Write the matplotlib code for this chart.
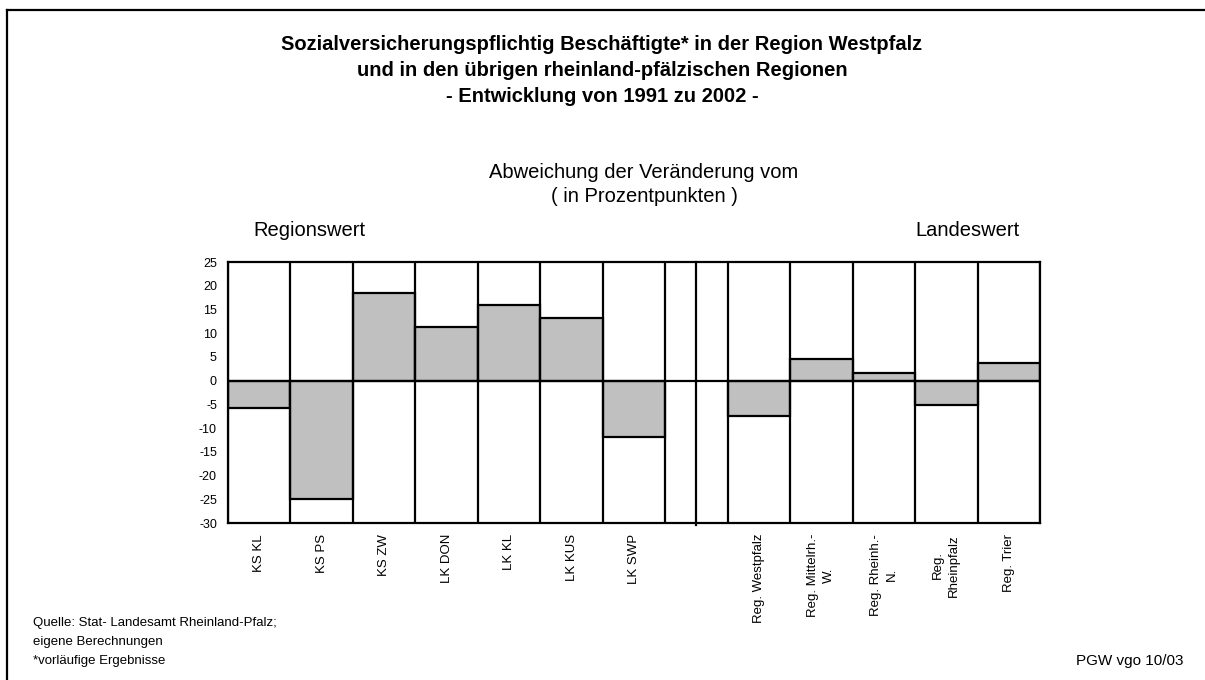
import numpy as np
import matplotlib.pyplot as plt
from matplotlib.lines import Line2D

plt.rcParams['font.family'] = ['Liberation Sans', 'DejaVu Sans']

# Kreise / Landkreise der Westpfalz (Abweichung vom Regionswert)
kreise = ["KS KL", "KS PS", "KS ZW", "LK DON", "LK KL", "LK KUS", "LK SWP"]
kreise_werte = [-5.8, -25.0, 18.5, 11.4, 15.9, 13.3, -11.9]

# Regionen (Abweichung vom Landeswert)
regionen = ["Reg. Westpfalz", "Reg. Mittelrh.-\nW.", "Reg. Rheinh.-\nN.",
            "Reg.\nRheinpfalz", "Reg. Trier"]
regionen_werte = [-7.5, 4.6, 1.6, -5.2, 3.8]

y_ticks = list(range(-30, 30, 5))

labels = kreise + [""] + regionen
werte = kreise_werte + [np.nan] + regionen_werte
pos = np.arange(len(labels))

fig = plt.figure(figsize=(12.05, 6.8), dpi=100)
ax = fig.add_axes([228 / 1205, 1 - 523 / 680, 812 / 1205, 261 / 680])

lw = 1.6
mask = ~np.isnan(werte)
ax.bar(pos[mask], np.array(werte)[mask], width=1, align='edge',
       color='#c0c0c0', edgecolor='black', linewidth=lw, zorder=2)
ax.vlines(np.arange(len(labels) + 1), -30, 25, color='black', lw=lw, zorder=3)
ax.axhline(0, color='black', lw=lw, zorder=4)
# Trennlinie zwischen den beiden Teilen
ax.plot([7.5, 7.5], [-30.5, 25], color='black', lw=lw, clip_on=False, zorder=3)

ax.set_xlim(0, len(labels))
ax.set_ylim(-30, 25)
ax.set_yticks(y_ticks)
ax.set_yticklabels([str(t) for t in y_ticks], fontsize=9)
ax.tick_params(axis='y', length=0, pad=8)
ax.set_xticks([])
for sp in ax.spines.values():
    sp.set_linewidth(lw)

for p, lab in zip(pos, labels):
    if lab:
        ax.text(p + 0.5, -32.3, lab, rotation=90, ha='center', va='top',
                multialignment='center', linespacing=1.45, fontsize=9.5)

# Titel
fig.text(602 / 1205, 1 - 45 / 680,
         "Sozialversicherungspflichtig Beschäftigte* in der Region Westpfalz",
         ha='center', va='center', fontsize=14.5, fontweight='bold')
fig.text(602 / 1205, 1 - 70 / 680,
         "und in den übrigen rheinland-pfälzischen Regionen",
         ha='center', va='center', fontsize=14.5, fontweight='bold')
fig.text(602 / 1205, 1 - 96 / 680, "- Entwicklung von 1991 zu 2002 -",
         ha='center', va='center', fontsize=14.5, fontweight='bold')

fig.text(644 / 1205, 1 - 172 / 680, "Abweichung der Veränderung vom",
         ha='center', va='center', fontsize=14.5)
fig.text(644 / 1205, 1 - 196 / 680, "( in Prozentpunkten )",
         ha='center', va='center', fontsize=14.5)
fig.text(253 / 1205, 1 - 231 / 680, "Regionswert", ha='left', va='center', fontsize=14.5)
fig.text(1020 / 1205, 1 - 231 / 680, "Landeswert", ha='right', va='center', fontsize=14.5)

# Fussnoten
fig.text(33 / 1205, 1 - 623 / 680, "Quelle: Stat- Landesamt Rheinland-Pfalz;",
         ha='left', va='center', fontsize=9.5)
fig.text(33 / 1205, 1 - 642 / 680, "eigene Berechnungen",
         ha='left', va='center', fontsize=9.5)
fig.text(33 / 1205, 1 - 661 / 680, "*vorläufige Ergebnisse",
         ha='left', va='center', fontsize=9.5)
fig.text(1183 / 1205, 1 - 661 / 680, "PGW vgo 10/03",
         ha='right', va='center', fontsize=11)

# Rahmen oben und links
fig.add_artist(Line2D([7.5 / 1205, 7.5 / 1205], [0, 1 - 10 / 680],
                      color='black', lw=1.6))
fig.add_artist(Line2D([7.5 / 1205, 1], [1 - 10 / 680, 1 - 10 / 680],
                      color='black', lw=1.6))

fig.savefig("out.png", dpi=100)
